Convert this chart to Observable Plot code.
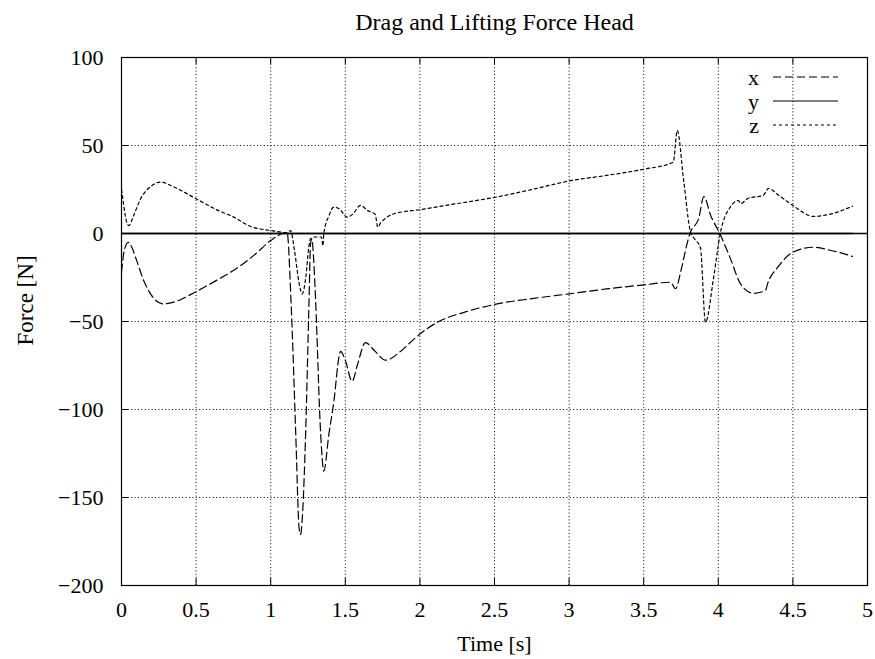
<!DOCTYPE html>
<html>
<head>
<meta charset="utf-8">
<script src="https://cdn.jsdelivr.net/npm/d3@7"></script>
<script src="https://cdn.jsdelivr.net/npm/@observablehq/plot@0.6"></script>
<style>
  body { margin: 0; background: #fff; }
  #wrap { position: relative; width: 875px; height: 659px; font-family: "Liberation Serif", "Times New Roman", serif; }
  #legend { position: absolute; left: 0; top: 0; pointer-events: none; }
</style>
</head>
<body>
<div id="wrap"></div>
<script>
// ---- data ----
const xTime = [0, 0.02, 0.045, 0.07, 0.1, 0.15, 0.2, 0.28, 0.35, 0.5, 0.65, 0.75, 0.9, 1.0, 1.11,
  1.136, 1.168, 1.19, 1.2, 1.213, 1.234, 1.257, 1.267, 1.276, 1.286, 1.301, 1.335, 1.356, 1.39, 1.424,
  1.458, 1.468, 1.5, 1.546, 1.58, 1.635, 1.7, 1.77, 1.87, 1.96, 2.05, 2.127, 2.3, 2.5, 2.75, 3.0, 3.25,
  3.5, 3.68, 3.713, 3.75, 3.79, 3.81, 3.87, 3.903, 3.95, 4.01, 4.08, 4.149, 4.236, 4.316, 4.33, 4.4,
  4.5, 4.638, 4.75, 4.9];
const xForce = [-22, -9, -5, -8, -15, -27, -35, -40, -39, -33, -26, -21, -11.5, -4, 0.5,
  -38, -114, -167, -171, -160, -114, -38, -6, -3, -12, -38, -114, -135, -114, -95,
  -70, -67, -72, -84, -75, -62, -67, -72, -67, -60, -54, -50, -44.7, -40.3, -37, -34.3, -31.5,
  -29.2, -27.7, -31.4, -21, -6, 0, 9, 21, 10, 0, -14, -28.6, -34, -32.4, -28.6, -19,
  -10.6, -7.8, -9.5, -13];

const yTime = [0, 4.9];
const yForce = [0, 0];

const zTime = [0, 0.012, 0.03, 0.049, 0.08, 0.13, 0.2, 0.261, 0.35, 0.5, 0.65, 0.753, 0.865, 1.0, 1.11,
  1.133, 1.16, 1.19, 1.211, 1.235, 1.255, 1.267, 1.3, 1.34, 1.35, 1.356, 1.39, 1.423, 1.46, 1.513,
  1.55, 1.602, 1.65, 1.7, 1.718, 1.737, 1.78, 1.826, 2.005, 2.25, 2.507, 2.75, 3.01, 3.25, 3.5,
  3.698, 3.725, 3.768, 3.814, 3.84, 3.88, 3.914, 3.969, 4.013, 4.08, 4.135, 4.15, 4.2, 4.3, 4.337,
  4.4, 4.5, 4.64, 4.75, 4.9];
const zForce = [25, 18, 8, 4.5, 10, 20, 27, 29.2, 26.5, 19.7, 13, 9.3, 4, 1.7, 0.5,
  1.7, -10, -28, -34.3, -25, -8, -3, -2, -2, -7, 0, 10, 15, 14, 9.3,
  11, 16, 13, 11, 3.6, 6, 9.3, 11.2, 13.6, 17, 20.6, 25, 30, 33, 36.5,
  40.5, 58.5, 30, 0.7, -3, -8, -50.4, -24.8, 0, 15, 18.7, 17, 20, 21.6, 25.6,
  22, 15.9, 9.7, 11, 15.5];

const xTicks = [0, 0.5, 1, 1.5, 2, 2.5, 3, 3.5, 4, 4.5, 5];
const yTicks = [-200, -150, -100, -50, 0, 50, 100];
const seriesNames = ["x", "y", "z"];

const titleText = "Drag and Lifting Force Head";
const xLabel = "Time [s]";
const yLabel = "Force [N]";

// ---- build rows ----
const xRows = xTime.map((t, i) => ({t, f: xForce[i]}));
const yRows = yTime.map((t, i) => ({t, f: yForce[i]}));
const zRows = zTime.map((t, i) => ({t, f: zForce[i]}));

const dash = {x: "8,4", y: null, z: "3,3"};
const fmt = d => d < 0 ? "\u2212" + (-d) : String(d);

const W = 875, H = 659;
const mL = 121, mR = 8, mT = 57, mB = 74;
const frameW = W - mL - mR, frameH = H - mT - mB;
const tickLen = 7;

const chart = Plot.plot({
  width: W,
  height: H,
  marginLeft: mL,
  marginRight: mR,
  marginTop: mT,
  marginBottom: mB,
  style: {fontFamily: "'Liberation Serif', 'Times New Roman', serif", fontSize: "22px", background: "#fff", color: "#000"},
  x: {domain: [0, 5], axis: null, label: null},
  y: {domain: [-200, 100], axis: null, label: null},
  marks: [
    Plot.ruleX(xTicks, {x: d => d, stroke: "#000", strokeWidth: 1, strokeDasharray: "1,2.4"}),
    Plot.ruleY(yTicks, {y: d => d, stroke: "#000", strokeWidth: 1, strokeDasharray: "1,2.4"}),
    Plot.ruleY([0], {stroke: "#000", strokeWidth: 1.3}),
    Plot.line(yRows, {x: "t", y: "f", stroke: "#000", strokeWidth: 1.3}),
    Plot.line(xRows, {x: "t", y: "f", stroke: "#000", strokeWidth: 1.2, strokeDasharray: dash.x, curve: "monotone-x"}),
    Plot.line(zRows, {x: "t", y: "f", stroke: "#000", strokeWidth: 1.2, strokeDasharray: dash.z, curve: "monotone-x"}),
    // inward ticks on all four sides
    Plot.ruleX(xTicks, {x: d => d, insetTop: frameH - tickLen, stroke: "#000"}),
    Plot.ruleX(xTicks, {x: d => d, insetBottom: frameH - tickLen, stroke: "#000"}),
    Plot.ruleY(yTicks, {y: d => d, insetRight: frameW - tickLen, stroke: "#000"}),
    Plot.ruleY(yTicks, {y: d => d, insetLeft: frameW - tickLen, stroke: "#000"}),
    Plot.frame({stroke: "#000", strokeWidth: 1.2}),
    Plot.axisX({ticks: xTicks, tickSize: 0, tickPadding: 16, tickFormat: fmt, fontSize: 22, label: null}),
    Plot.axisY({ticks: yTicks, tickSize: 0, tickPadding: 18, tickFormat: fmt, fontSize: 22, label: null}),
    Plot.text([titleText], {text: d => d, frameAnchor: "top", dy: -28, lineAnchor: "bottom", fontSize: 24}),
    Plot.text([xLabel], {text: d => d, frameAnchor: "bottom", dy: 65, lineAnchor: "bottom", fontSize: 22}),
    Plot.text([yLabel], {text: d => d, frameAnchor: "left", dx: -96, dy: 24, rotate: -90, fontSize: 23})
  ]
});
document.getElementById("wrap").appendChild(chart);

// ---- legend (overlay) ----
const leg = d3.select("#wrap").append("svg")
  .attr("id", "legend").attr("width", W).attr("height", H);
seriesNames.forEach((name, i) => {
  const yLine = 77 + i * 24;
  leg.append("text").attr("x", 759).attr("y", yLine + 8)
    .attr("text-anchor", "end").attr("font-size", 22)
    .attr("font-family", "'Liberation Serif', 'Times New Roman', serif")
    .text(name);
  leg.append("line").attr("x1", 773).attr("x2", 838).attr("y1", yLine).attr("y2", yLine)
    .attr("stroke", "#000").attr("stroke-width", 1.2)
    .attr("stroke-dasharray", dash[name]);
});
</script>
</body>
</html>
